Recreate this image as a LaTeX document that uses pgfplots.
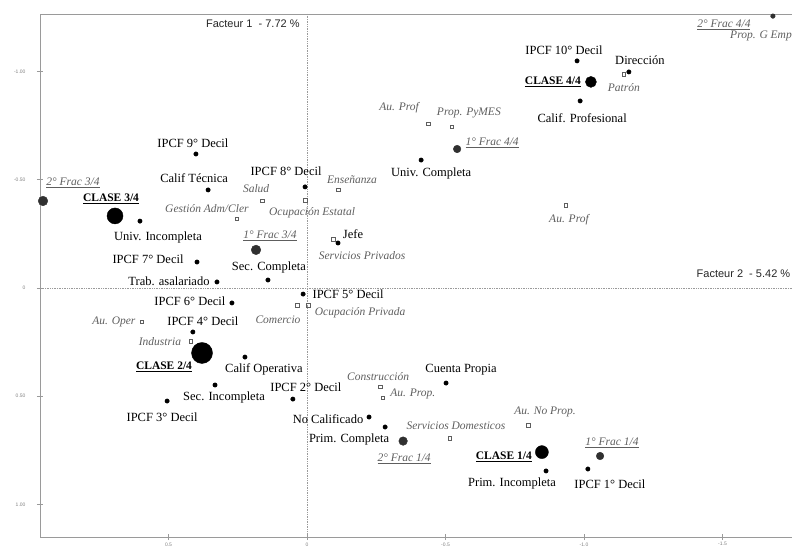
\documentclass[border=0pt]{standalone}
\usepackage{pgfplots}
\pgfplotsset{compat=1.18}
\usepackage{pgfplotstable}
\usepackage{fontspec}
\setmainfont{Liberation Serif}
\newfontfamily\sansf{Liberation Sans}
\definecolor{lblgray}{HTML}{5E5E5E}
\definecolor{fracgray}{HTML}{303030}
\definecolor{framegray}{HTML}{9A9A9A}

% active categories
\pgfplotstableread[col sep=comma]{
x,y,dx,dy,lbl
-0.975,-1.049,-13,11,IPCF 10° Decil
-1.162,-0.998,11,12,Dirección
-0.986,-0.864,2,-17,Calif. Profesional
-0.412,-0.591,10,-13,Univ. Completa
0.401,-0.619,-3,11,IPCF 9° Decil
0.007,-0.467,-19,16,IPCF 8° Decil
0.357,-0.453,-14,12,Calif Técnica
0.603,-0.309,18,-16,Univ. Incompleta
-0.112,-0.208,15,9,Jefe
0.397,-0.120,-49,3,IPCF 7° Decil
0.141,-0.037,1,13,Sec. Completa
0.325,-0.028,-48,1,Trab. asalariado
0.014,0.028,45,0,IPCF 5° Decil
0.271,0.069,-42,2,IPCF 6° Decil
0.412,0.203,10,11,IPCF 4° Decil
0.224,0.319,19,-12,Calif Operativa
0.332,0.448,9,-12,Sec. Incompleta
0.051,0.513,13,12,IPCF 2° Decil
0.505,0.522,-5,-16,IPCF 3° Decil
-0.224,0.596,-41,-2,No Calificado
-0.282,0.642,-36,-12,Prim. Completa
-0.502,0.439,15,13,Cuenta Propia
-0.863,0.845,-34,-13,Prim. Incompleta
-1.014,0.836,22,-15,IPCF 1° Decil
}\actdata

% supplementary categories
\pgfplotstableread[col sep=comma]{
x,y,dx,dy,lbl
-1.144,-0.988,0,-13,Patrón
-0.437,-0.758,-29,16,Au. Prof
-0.523,-0.744,17,14,Prop. PyMES
-0.112,-0.453,14,10,Enseñanza
0.162,-0.402,-6,12,Salud
0.007,-0.406,7,-13,Ocupación Estatal
0.253,-0.319,-30,10,Gestión Adm/Cler
-0.094,-0.226,29,-16,Servicios Privados
-0.935,-0.383,3,-15,Au. Prof
0.036,0.079,-19,-15,Comercio
-0.004,0.079,52,-8,Ocupación Privada
0.596,0.157,-28,0,Au. Oper
0.419,0.245,-31,-1,Industria
-0.264,0.457,-2,10,Construcción
-0.274,0.508,30,4,Au. Prop.
-0.516,0.693,6,12,Servicios Domesticos
-0.798,0.633,17,13,Au. No Prop.
}\supdata

\pgfplotstableread[col sep=comma]{
x,y,dx,dy,lbl
-1.639,-1.164,0,0,Prop. G Emp
}\supnomark

\pgfplotstableread[col sep=comma]{
x,y,dx,dy,lbl
-1.682,-1.256,-49,-9,2° Frac 4/4
-0.542,-0.642,35,6,1° Frac 4/4
0.953,-0.402,30,18,2° Frac 3/4
0.184,-0.176,14,14,1° Frac 3/4
-0.347,0.707,1,-18,2° Frac 1/4
-1.058,0.776,12,13,1° Frac 1/4
}\fracdata

\pgfplotstableread[col sep=comma]{
x,y,dx,dy,lbl
-1.025,-0.952,-38,0,CLASE 4/4
0.693,-0.333,-4,17,CLASE 3/4
0.379,0.300,-38,-14,CLASE 2/4
-0.848,0.758,-38,-5,CLASE 1/4
}\clasedata

\pgfplotsset{
  lbls/.style={
    point meta=explicit symbolic,
    visualization depends on={\thisrow{dx}\as\offx},
    visualization depends on={\thisrow{dy}\as\offy},
    every node near coord/.append style={anchor=center, inner sep=0pt,
      xshift=\offx pt, yshift=\offy pt},
  },
}

\begin{document}
\begin{tikzpicture}
\begin{axis}[
    at={(40pt,12pt)}, anchor=south west,
    scale only axis,
    width=756pt, height=523pt,
    x dir=reverse, y dir=reverse,
    xmin=-1.7653, xmax=0.9639,
    ymin=-1.2656, ymax=1.1501,
    clip=false,
    axis line style={framegray, line width=0.9pt},
    tick pos=left,
    tick align=center,
    major tick length=6pt,
    tick style={framegray, line width=0.6pt},
    xtick={0.5,0,-0.5,-1,-1.5},
    xticklabels={0.5,0,-0.5,-1.0,-1.5},
    ytick={-1,-0.5,0,0.5,1},
    yticklabels={-1.00,-0.50,0,0.50,1.00},
    ticklabel style={font=\sansf\fontsize{5}{6}\selectfont, text=gray},
    xticklabel style={yshift=1pt},
    yticklabel style={xshift=-8pt},
]
\draw[framegray, densely dotted, line width=0.7pt]
  (axis cs:0,-1.2656) -- (axis cs:0,1.1501);
\draw[framegray, densely dotted, line width=0.7pt]
  (axis cs:0.9639,0) -- (axis cs:-1.7653,0);

\node[anchor=east, font=\sansf\fontsize{11}{13}\selectfont, text=black!85]
  at (axis cs:0.014,-1.219) {Facteur 1 \ -\ 7.72 \%};
\node[anchor=west, font=\sansf\fontsize{11}{13}\selectfont, text=black!85]
  at (axis cs:-1.394,-0.065) {Facteur 2 \ -\ 5.42 \%};

% supplementary categories: open squares
\addplot[only marks, mark=square, mark size=1.7pt, lblgray,
  mark options={line width=0.4pt}, lbls, nodes near coords,
  every node near coord/.append style={font=\fontsize{11.5}{13}\selectfont\itshape, text=lblgray}]
  table[x=x, y=y, meta=lbl] {\supdata};
\addplot[draw=none, mark=none, lbls, nodes near coords,
  every node near coord/.append style={font=\fontsize{11.5}{13}\selectfont\itshape, text=lblgray}]
  table[x=x, y=y, meta=lbl] {\supnomark};

% active categories
\addplot[only marks, mark=*, mark size=2.2pt, black, lbls, nodes near coords,
  every node near coord/.append style={font=\fontsize{12.5}{14}\selectfont, text=black}]
  table[x=x, y=y, meta=lbl] {\actdata};

% fractions (dot size varies)
\addplot[only marks, mark=*, fracgray, mark size=2.3pt] coordinates {(-1.682,-1.256)};
\addplot[only marks, mark=*, fracgray, mark size=3.8pt] coordinates {(-0.542,-0.642)};
\addplot[only marks, mark=*, fracgray, mark size=4.8pt] coordinates {(0.953,-0.402)};
\addplot[only marks, mark=*, fracgray, mark size=4.8pt] coordinates {(0.184,-0.176)};
\addplot[only marks, mark=*, fracgray, mark size=4.3pt] coordinates {(-0.347,0.707)};
\addplot[only marks, mark=*, fracgray, mark size=3.8pt] coordinates {(-1.058,0.776)};
\addplot[draw=none, mark=none, lbls,
  nodes near coords={\underline{\pgfplotspointmeta}},
  every node near coord/.append style={font=\fontsize{11.5}{13}\selectfont\itshape, text=lblgray}]
  table[x=x, y=y, meta=lbl] {\fracdata};

% classes (dot size varies)
\addplot[only marks, mark=*, black, mark size=5.5pt] coordinates {(-1.025,-0.952)};
\addplot[only marks, mark=*, black, mark size=8pt] coordinates {(0.693,-0.333)};
\addplot[only marks, mark=*, black, mark size=10.5pt] coordinates {(0.379,0.300)};
\addplot[only marks, mark=*, black, mark size=6.5pt] coordinates {(-0.848,0.758)};
\addplot[draw=none, mark=none, lbls,
  nodes near coords={\underline{\pgfplotspointmeta}},
  every node near coord/.append style={font=\fontsize{11.5}{13}\selectfont\bfseries, text=black}]
  table[x=x, y=y, meta=lbl] {\clasedata};
\end{axis}
\pgfresetboundingbox
\path[use as bounding box] (0,0) rectangle (792pt,549pt);
\end{tikzpicture}
\end{document}
